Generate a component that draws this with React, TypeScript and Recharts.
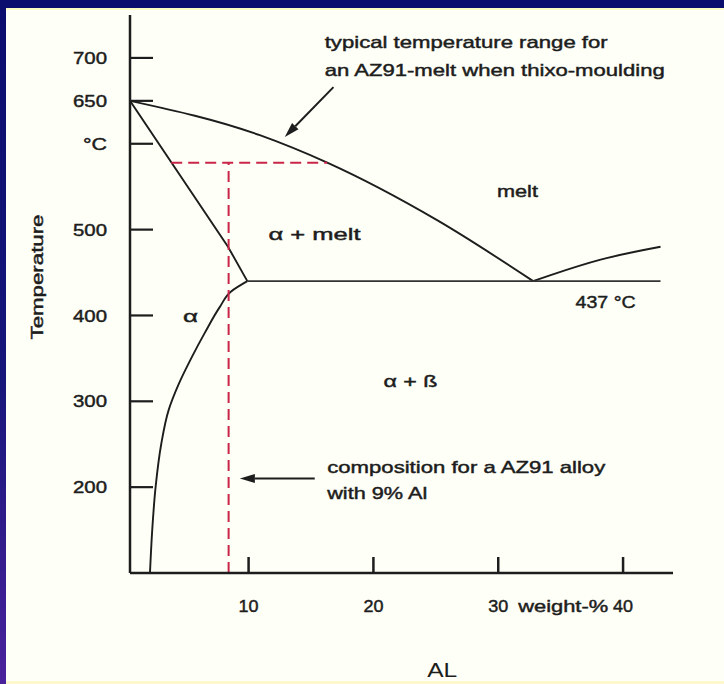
import React from "react";
import { LineChart, Line, XAxis, YAxis, ReferenceLine, ReferenceDot } from "recharts";

const FONT = '"Liberation Sans", Arial, Helvetica, sans-serif';
const INK = "#1d1d1d";
const RED = "#c9264a";

// phase boundaries (al = weight-% Al, t = °C)
const liquidusMg = [
  { al: 0.5, t: 650 }, { al: 10.9, t: 610 }, { al: 16.3, t: 578 }, { al: 25.1, t: 511 }, { al: 32.8, t: 440 },
];
const liquidusBeta = [
  { al: 32.8, t: 440 }, { al: 34.2, t: 447 }, { al: 38.2, t: 465 }, { al: 43.0, t: 480 },
];
const solidus = [{ al: 0.5, t: 650 }, { al: 8.35, t: 480 }, { al: 9.9, t: 440 }];
const solvus = [
  { al: 2.1, t: 100 }, { al: 2.28, t: 150 }, { al: 2.55, t: 200 }, { al: 3.0, t: 250 }, { al: 3.6, t: 290 },
  { al: 4.4, t: 320 }, { al: 5.4, t: 350 }, { al: 6.5, t: 380 }, { al: 7.7, t: 410 }, { al: 8.6, t: 428 },
  { al: 9.9, t: 440 },
];
const eutectic = [{ al: 9.9, t: 440 }, { al: 43.0, t: 440 }];
const thixoTemp = [{ al: 3.8, t: 578 }, { al: 16.3, t: 578 }];
const az91 = [{ al: 8.4, t: 100 }, { al: 8.4, t: 578 }];

const tempTicks = [200, 300, 400, 500, 600, 650, 700];
const tempTickText: Record<number, string> = { 600: "°C" };
const alTicks = [10, 20, 30, 40];

// annotations: text, anchor point (data units), drawn width in px
const notes = [
  { text: "typical temperature range for", al: 16.1, t: 712, w: 283 },
  { text: "an AZ91-melt when thixo-moulding", al: 16.1, t: 679, w: 340 },
  { text: "melt", al: 29.9, t: 538, w: 41 },
  { text: "α + melt", al: 11.6, t: 488, w: 92 },
  { text: "α", al: 4.75, t: 392, w: 15 },
  { text: "α + ß", al: 20.8, t: 317, w: 54 },
  { text: "437 °C", al: 36.2, t: 409, w: 60 },
  { text: "composition for a AZ91 alloy", al: 16.3, t: 216, w: 278 },
  { text: "with 9% Al", al: 16.3, t: 186, w: 100 },
  { text: "weight-%", al: 31.6, t: 55, w: 90 },
];

const arrows = [
  { from: { al: 16.8, t: 666 }, to: { al: 12.9, t: 608 } },
  { from: { al: 15.3, t: 210 }, to: { al: 9.3, t: 210 } },
];

const textInk = { fill: INK, stroke: INK, strokeWidth: 0.45 };

const Arrow = (p: any) => {
  const { x1, y1, x2, y2 } = p;
  const a = Math.atan2(y2 - y1, x2 - x1);
  const len = 15, half = 4.5;
  const bx = x2 - len * Math.cos(a), by = y2 - len * Math.sin(a);
  const pts = [
    [x2, y2],
    [bx - half * Math.sin(a), by + half * Math.cos(a)],
    [bx + half * Math.sin(a), by - half * Math.cos(a)],
  ].map(q => q.join(",")).join(" ");
  return (
    <g>
      <line x1={x1} y1={y1} x2={bx} y2={by} stroke={INK} strokeWidth={2} />
      <polygon points={pts} fill={INK} />
    </g>
  );
};

const TempTick = ({ x, y, payload }: any) => {
  const label = tempTickText[payload.value] ?? String(payload.value);
  return (
    <g>
      <line x1={x} x2={x + 23} y1={y} y2={y} stroke={INK} strokeWidth={2.2} />
      <text x={x - 23} y={y} dy="0.36em" textAnchor="end" fontFamily={FONT} fontSize={17} {...textInk}
        textLength={label.length === 2 ? 24 : 34} lengthAdjust="spacingAndGlyphs">{label}</text>
    </g>
  );
};

const AlTick = ({ x, y, payload }: any) => (
  <g>
    <line x1={x} x2={x} y1={y} y2={y - 16} stroke={INK} strokeWidth={2.5} />
    <text x={x} y={y + 39} textAnchor="middle" fontFamily={FONT} fontSize={17} {...textInk}
      textLength={20} lengthAdjust="spacingAndGlyphs">{payload.value}</text>
  </g>
);

const noteLabel = (n: { text: string; w: number }) => (props: any) => {
  const vb = props.viewBox || {};
  return (
    <text x={vb.x} y={vb.y} fontFamily={FONT} fontSize={17} {...textInk}
      textLength={n.w} lengthAdjust="spacingAndGlyphs">{n.text}</text>
  );
};

export default function App() {
  return (
    <div style={{
      position: 'absolute', left: 0, top: 0, width: 724, height: 684, overflow: 'hidden',
      background: 'linear-gradient(to bottom, #0b0d6e 0%, #16167a 55%, #4a229c 100%)',
    }}>
      <div style={{
        position: 'absolute', left: 6, top: 8, right: 0, bottom: 0,
        background: '#fefff6', borderTop: '2px solid #fbfbc4', borderBottom: '3px solid #fdf8cc',
      }} />
      <div style={{ position: 'absolute', left: 0, top: 0 }}>
        <LineChart width={724} height={684} margin={{ top: 15, right: 51, bottom: 71, left: 70 }}>
          <XAxis dataKey="al" type="number" domain={[0.5, 44]} ticks={alTicks} interval={0} height={40}
            allowDataOverflow axisLine={{ stroke: INK, strokeWidth: 2.5 }} tickLine={false}
            tickSize={0} tickMargin={0} tick={<AlTick />}
            label={(p: any) => {
              const vb = p.viewBox || {};
              return (
                <text x={vb.x + vb.width * 0.575} y={vb.y + vb.height + 64} textAnchor="middle"
                  fontFamily={FONT} fontSize={21} fill={INK} textLength={30} lengthAdjust="spacingAndGlyphs">AL</text>
              );
            }} />
          <YAxis dataKey="t" type="number" domain={[100, 750]} ticks={tempTicks} interval={0} width={60}
            allowDataOverflow axisLine={{ stroke: INK, strokeWidth: 2.5 }} tickLine={false}
            tickSize={0} tickMargin={0} tick={<TempTick />}
            label={(p: any) => {
              const vb = p.viewBox || {};
              const cx = vb.x - 33, cy = vb.y + 262;
              return (
                <text x={cx} y={cy} transform={`rotate(-90, ${cx}, ${cy})`} textAnchor="middle" dy="0.35em"
                  fontFamily={FONT} fontSize={17} {...textInk} textLength={125} lengthAdjust="spacingAndGlyphs">Temperature</text>
              );
            }} />

          <Line data={liquidusMg} dataKey="t" type="monotone" stroke={INK} strokeWidth={1.9} dot={false} isAnimationActive={false} />
          <Line data={liquidusBeta} dataKey="t" type="monotone" stroke={INK} strokeWidth={1.9} dot={false} isAnimationActive={false} />
          <Line data={solidus} dataKey="t" type="linear" stroke={INK} strokeWidth={1.9} dot={false} isAnimationActive={false} />
          <Line data={solvus} dataKey="t" type="monotoneY" stroke={INK} strokeWidth={1.9} dot={false} isAnimationActive={false} />
          <Line data={eutectic} dataKey="t" type="linear" stroke="#333" strokeWidth={1.6} dot={false} isAnimationActive={false} />
          <Line data={thixoTemp} dataKey="t" type="linear" stroke={RED} strokeWidth={2} strokeDasharray="11 6" dot={false} isAnimationActive={false} />
          <Line data={az91} dataKey="t" type="linear" stroke={RED} strokeWidth={2} strokeDasharray="11 6" dot={false} isAnimationActive={false} />

          {arrows.map((a, i) => (
            <ReferenceLine key={`arr-${i}`} segment={[{ x: a.from.al, y: a.from.t }, { x: a.to.al, y: a.to.t }]}
              ifOverflow="visible" shape={Arrow} />
          ))}
          {notes.map((n, i) => (
            <ReferenceDot key={`note-${i}`} x={n.al} y={n.t} r={0} fill="none" stroke="none"
              ifOverflow="visible" label={noteLabel(n)} />
          ))}
        </LineChart>
      </div>
    </div>
  );
}
